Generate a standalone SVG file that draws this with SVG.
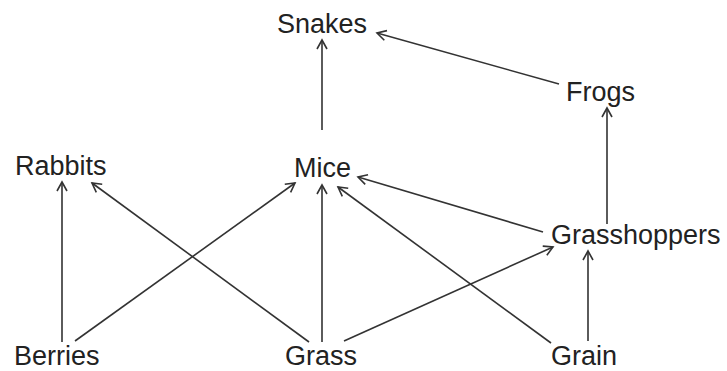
<svg xmlns="http://www.w3.org/2000/svg" width="727" height="371" viewBox="0 0 727 371">
<style>
text{font-family:"Liberation Sans",Arial,sans-serif;font-size:27px;fill:#222}
.e{stroke:#333;stroke-width:1.6;fill:none;marker-end:url(#a)}
</style>
<defs>
<marker id="a" markerUnits="userSpaceOnUse" viewBox="-12 -8 14 16" markerWidth="14" markerHeight="16" refX="0" refY="0" orient="auto">
<path d="M-9,-5 L0,0 L-9,5" fill="none" stroke="#333" stroke-width="1.6"/>
</marker>
</defs>
<rect width="727" height="371" fill="#fff"/>
<g id="connectors">
<line class="e" x1="322" y1="130" x2="322" y2="40"/>
<line class="e" x1="559" y1="84" x2="377" y2="33"/>
<line class="e" x1="607" y1="224" x2="607" y2="108"/>
<line class="e" x1="62" y1="342" x2="62" y2="182"/>
<line class="e" x1="309" y1="342" x2="92" y2="183"/>
<line class="e" x1="75" y1="341" x2="295" y2="183"/>
<line class="e" x1="322" y1="342" x2="322" y2="185"/>
<line class="e" x1="551" y1="343" x2="338" y2="187"/>
<line class="e" x1="543" y1="232" x2="358" y2="177"/>
<line class="e" x1="344" y1="341" x2="553" y2="247"/>
<line class="e" x1="588" y1="341" x2="588" y2="251"/>
</g>
<g id="snakes"><text x="277" y="33">Snakes</text></g>
<g id="frogs"><text x="566" y="101">Frogs</text></g>
<g id="rabbits"><text x="15" y="175">Rabbits</text></g>
<g id="mice"><text x="294" y="177">Mice</text></g>
<g id="grasshoppers"><text x="551" y="244">Grasshoppers</text></g>
<g id="berries"><text x="14" y="365">Berries</text></g>
<g id="grass"><text x="285" y="365">Grass</text></g>
<g id="grain"><text x="551" y="365">Grain</text></g>
</svg>
